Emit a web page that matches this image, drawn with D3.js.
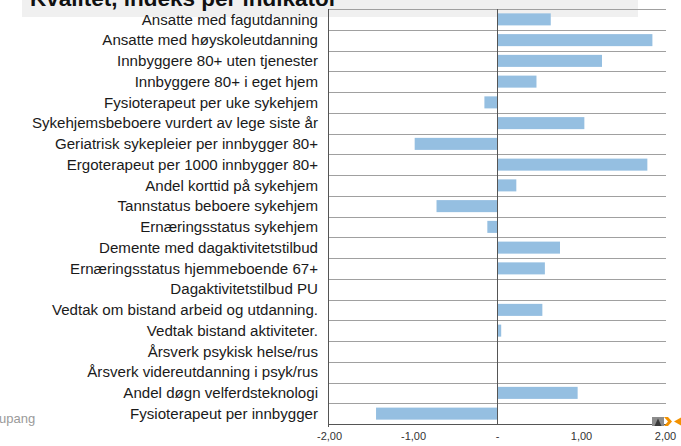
<!DOCTYPE html>
<html>
<head>
<meta charset="utf-8">
<script src="https://cdn.jsdelivr.net/npm/d3@7"></script>
<style>
  body { margin: 0; background: #fff; }
  svg { display: block; font-family: "Liberation Sans", Arial, sans-serif; }
</style>
</head>
<body>
<div id="chart"></div>
<script>
// indikatorer, ovenfra og ned
const categories = [
    "Ansatte med fagutdanning",
    "Ansatte med høyskoleutdanning",
    "Innbyggere 80+ uten tjenester",
    "Innbyggere 80+ i eget hjem",
    "Fysioterapeut per uke sykehjem",
    "Sykehjemsbeboere vurdert av lege siste år",
    "Geriatrisk sykepleier per innbygger 80+",
    "Ergoterapeut per 1000 innbygger 80+",
    "Andel korttid på sykehjem",
    "Tannstatus beboere sykehjem",
    "Ernæringsstatus sykehjem",
    "Demente med dagaktivitetstilbud",
    "Ernæringsstatus hjemmeboende 67+",
    "Dagaktivitetstilbud PU",
    "Vedtak om bistand arbeid og utdanning.",
    "Vedtak bistand aktiviteter.",
    "Årsverk psykisk helse/rus",
    "Årsverk videreutdanning i psyk/rus",
    "Andel døgn velferdsteknologi",
    "Fysioterapeut per innbygger"
];
const values = [
    0.64, 1.85, 1.25, 0.47, -0.15, 1.04, -0.98, 1.79, 0.23, -0.72,
    -0.115, 0.75, 0.57, 0, 0.54, 0.05, 0, 0, 0.96, -1.44
];
const tickValues = [-2, -1, 0, 1, 2];
const tickLabels = ["-2,00", "-1,00", "-", "1,00", "2,00"];

const width = 681, height = 446;
const margin = { top: 9, right: 16, bottom: 22, left: 329 };

const svg = d3.select("#chart").append("svg")
    .attr("width", width)
    .attr("height", height);

// title band (cut off at top, as in the slide)
svg.append("rect")
    .attr("x", 22).attr("y", 0)
    .attr("width", 616).attr("height", 17)
    .attr("fill", "#f0f0f0");
svg.append("text")
    .attr("x", 30).attr("y", 6)
    .attr("font-size", 22.5).attr("font-weight", "bold")
    .attr("fill", "#111")
    .text("Kvalitet, indeks per indikator");

const x = d3.scaleLinear()
    .domain([-2, 2])
    .range([margin.left, width - margin.right]);

const y = d3.scaleBand()
    .domain(categories)
    .range([margin.top, height - margin.bottom])
    .paddingInner(0.42)
    .paddingOuter(0.21);

const step = y.step();
const rowTop = (i) => margin.top + i * step;

// horizontal grid lines between rows
svg.append("g")
    .selectAll("line")
    .data(d3.range(categories.length))
    .join("line")
    .attr("x1", x(-2)).attr("x2", x(2) + 1)
    .attr("y1", (i) => Math.round(rowTop(i)) + 0.5)
    .attr("y2", (i) => Math.round(rowTop(i)) + 0.5)
    .attr("stroke", "#a0a0a0")
    .attr("stroke-width", 1);

// bars
svg.append("g")
    .selectAll("rect")
    .data(values)
    .join("rect")
    .attr("x", (d) => x(Math.min(0, d)))
    .attr("y", (d, i) => y(categories[i]))
    .attr("width", (d) => Math.abs(x(d) - x(0)))
    .attr("height", y.bandwidth())
    .attr("fill", "#95bfe1");

// category labels
svg.append("g")
    .selectAll("text")
    .data(categories)
    .join("text")
    .attr("x", 318)
    .attr("y", (d) => y(d) + y.bandwidth() / 2)
    .attr("dy", "0.35em")
    .attr("text-anchor", "end")
    .attr("font-size", 15.1)
    .attr("fill", "#1a1a1a")
    .text((d) => d);

// left axis and zero line
const yBottom = height - margin.bottom;
svg.append("line")
    .attr("x1", x(-2) - 0.5).attr("x2", x(-2) - 0.5)
    .attr("y1", margin.top).attr("y2", yBottom + 3)
    .attr("stroke", "#555");
svg.append("line")
    .attr("x1", Math.round(x(0)) + 0.5).attr("x2", Math.round(x(0)) + 0.5)
    .attr("y1", margin.top).attr("y2", yBottom)
    .attr("stroke", "#555");

// bottom axis
const xAxis = d3.axisBottom(x)
    .tickValues(tickValues)
    .tickFormat((d, i) => tickLabels[i])
    .tickSize(0)
    .tickPadding(8);
const gx = svg.append("g")
    .attr("transform", `translate(0,${Math.round(yBottom) + 0.5})`)
    .call(xAxis);
gx.select(".domain").attr("stroke", "#555").attr("d", `M${x(-2)},0H${x(2) + 1}`);
gx.selectAll("text")
    .attr("font-family", "'Liberation Sans', Arial, sans-serif")
    .attr("font-size", 11)
    .attr("fill", "#333");

// footer text at left
svg.append("text")
    .attr("x", -1).attr("y", 423)
    .attr("font-size", 13)
    .attr("fill", "#9a9a9a")
    .text("upang");

// small logo bottom right
const logo = svg.append("g").attr("transform", "translate(652,417)");
logo.append("rect").attr("width", 12).attr("height", 9).attr("fill", "#8c8c8c");
logo.append("path").attr("d", "M2.5,9 L6,1.5 L9.5,9 Z").attr("fill", "#3a3a3a");
logo.append("path").attr("d", "M12,0 L16,0 L20,4.5 L16,9 L12,9 L16,4.5 Z").attr("fill", "#f39200");
logo.append("path").attr("d", "M29,0.5 L22,4.5 L29,8.5 Z").attr("fill", "#f39200");
</script>
</body>
</html>
